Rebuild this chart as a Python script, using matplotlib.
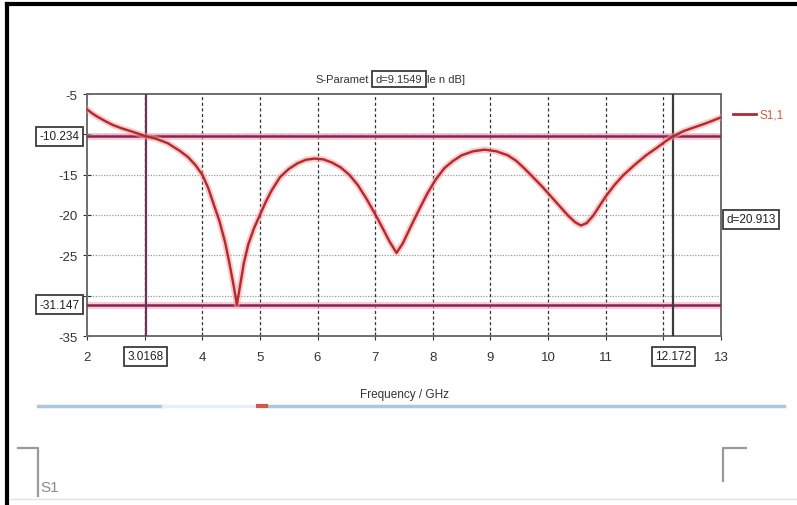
import matplotlib
matplotlib.use("Agg")
import matplotlib.pyplot as plt
from matplotlib.lines import Line2D

plt.rcParams['font.family'] = ['Liberation Sans Narrow', 'Liberation Sans', 'DejaVu Sans']

# S1,1 (GHz, dB)
freq = [2.0, 2.1, 2.2, 2.3, 2.45, 2.6, 2.8, 3.0168, 3.2, 3.4, 3.6, 3.75,
        3.88, 4.0, 4.1, 4.2, 4.3, 4.4, 4.48, 4.55, 4.6, 4.66, 4.72, 4.8,
        4.9, 5.0, 5.1, 5.2, 5.35, 5.5, 5.65, 5.8, 5.95, 6.1, 6.25, 6.4,
        6.55, 6.7, 6.85, 7.0, 7.12, 7.25, 7.37, 7.48, 7.6, 7.75, 7.9, 8.05,
        8.2, 8.35, 8.5, 8.7, 8.9, 9.1, 9.3, 9.45, 9.6, 9.75, 9.9, 10.05,
        10.2, 10.35, 10.47, 10.57, 10.67, 10.78, 10.9, 11.0, 11.15, 11.3,
        11.5, 11.7, 11.9, 12.05, 12.172, 12.35, 12.55, 12.75, 13.0]
s11 = [-6.9, -7.45, -7.9, -8.3, -8.85, -9.25, -9.7, -10.234, -10.55, -11.1,
       -12.0, -12.8, -13.8, -15.0, -16.6, -18.7, -20.8, -23.5, -26.3, -29.0,
       -31.1, -28.6, -26.0, -23.6, -21.6, -20.0, -18.4, -17.0, -15.3, -14.3,
       -13.6, -13.15, -13.0, -13.1, -13.5, -14.1, -15.0, -16.3, -18.0, -19.9,
       -21.5, -23.3, -24.7, -23.5, -21.7, -19.5, -17.4, -15.6, -14.2, -13.3,
       -12.6, -12.1, -11.9, -12.1, -12.6, -13.3, -14.3, -15.4, -16.5, -17.7,
       -18.9, -20.1, -20.9, -21.3, -21.0, -20.1, -18.8, -17.7, -16.3, -15.1,
       -13.8, -12.6, -11.6, -10.8, -10.234, -9.6, -9.1, -8.6, -7.9]

xticks = [2, 3, 4, 5, 6, 7, 8, 9, 10, 11, 12, 13]
xtick_labels = ['2', '', '4', '5', '6', '7', '8', '9', '10', '11', '', '13']
yticks = [-5, -10, -15, -20, -25, -30, -35]
ytick_labels = ['-5', '', '-15', '-20', '-25', '', '-35']

# marker readouts
marker_x = [3.0168, 12.172]
marker_y = [-10.234, -31.147]
delta_y = "d=20.913"
delta_x = "d=9.1549"

W, H = 797, 506
fig = plt.figure(figsize=(W / 100, H / 100), dpi=100)
fig.patch.set_facecolor('white')


def fx(px):
    return px / W


def fy(py):
    return 1 - py / H


ax = fig.add_axes([fx(87), fy(337), fx(721) - fx(87), fy(95) - fy(337)])
ax.set_xlim(2, 13)
ax.set_ylim(-35, -5)

# grid
for x in xticks[1:-1]:
    ax.axvline(x, color='#333333', lw=0.9, ls=(0, (2.5, 2)), zorder=1)
for y in yticks[1:-1]:
    ax.axhline(y, color='#9a9a9a', lw=0.9, ls=(0, (1, 1.2)), zorder=1)

# markers
for y in marker_y:
    ax.axhline(y, color='#f2a9c0', lw=5, alpha=0.6, zorder=2)
    ax.axhline(y, color='#8a2352', lw=1.8, zorder=3)
ax.axvline(marker_x[0], color='#6a3458', lw=1.6, zorder=3)
ax.axvline(marker_x[1], color='#3a3a3a', lw=1.6, zorder=3)

# curve
ax.plot(freq, s11, color='#f4a0a0', lw=4.5, alpha=0.55, zorder=4)
ax.plot(freq, s11, color='#b4282e', lw=1.7, zorder=5, label='S1,1')

for s in ax.spines.values():
    s.set_color('#6e6e6e')
    s.set_linewidth(1.4)

ax.set_xticks(xticks)
ax.set_xticklabels(xtick_labels)
ax.set_yticks(yticks)
ax.set_yticklabels(ytick_labels)
ax.tick_params(axis='x', direction='inout', length=6, pad=8, labelsize=9.5,
               colors='#333333')
ax.tick_params(axis='y', direction='inout', length=6, pad=4, labelsize=9.5,
               colors='#333333')
ax.set_xlabel("Frequency / GHz", fontsize=8.5, color='#333333', labelpad=18)

box = dict(boxstyle='square,pad=0.3', fc='white', ec='#3c3c3c', lw=1.3)

# title split by delta box
ax.text(0.444, 1.062, "S-Paramet", transform=ax.transAxes, ha='right',
        va='center', fontsize=8, color='#333333')
ax.text(0.492, 1.062, delta_x, transform=ax.transAxes, ha='center',
        va='center', fontsize=8, color='#333333', bbox=box, zorder=10)
ax.text(0.536, 1.062, "le n dB]", transform=ax.transAxes, ha='left',
        va='center', fontsize=8, color='#333333')

# marker value boxes
for y in marker_y:
    ax.text(-0.012, y, f"{y:.3f}", transform=ax.get_yaxis_transform(),
            ha='right', va='center', fontsize=8.5, color='#222222',
            bbox=box, zorder=10, clip_on=False)
for x in marker_x:
    lab = f"{x:.4f}" if x < 10 else f"{x:.3f}"
    ax.text(x, -0.083, lab, transform=ax.get_xaxis_transform(),
            ha='center', va='center', fontsize=8.5, color='#222222',
            bbox=box, zorder=10, clip_on=False)
ax.text(1.047, 0.483, delta_y, transform=ax.transAxes, ha='center',
        va='center', fontsize=8.5, color='#222222', bbox=box, clip_on=False)

# legend
fig.add_artist(Line2D([fx(733), fx(756)], [fy(115), fy(115)],
                      color='#b4282e', lw=2))
fig.text(fx(760), fy(116), "S1,1", fontsize=8.5, color='#d0603a',
         ha='left', va='center')

# outer frame
fig.add_artist(Line2D([fx(7), fx(797)], [fy(5), fy(5)], color='black', lw=3))
fig.add_artist(Line2D([fx(7), fx(7)], [fy(5), fy(506)], color='black', lw=3))
fig.add_artist(Line2D([fx(10), fx(797)], [fy(500), fy(500)],
                      color='#e4e4e4', lw=1))

# scrollbar below chart
fig.add_artist(Line2D([fx(38), fx(163)], [fy(407), fy(407)],
                      color='#aec6dc', lw=2.5))
fig.add_artist(Line2D([fx(163), fx(255)], [fy(407), fy(407)],
                      color='#e6eef6', lw=2.5))
fig.add_artist(Line2D([fx(268), fx(784)], [fy(407), fy(407)],
                      color='#aec6dc', lw=2.5))
fig.add_artist(Line2D([fx(258), fx(266)], [fy(407), fy(407)],
                      color='#d2584a', lw=3))

# corner brackets and label
fig.add_artist(Line2D([fx(18), fx(38), fx(38)], [fy(449), fy(449), fy(497)],
                      color='#9a9a9a', lw=1.6))
fig.add_artist(Line2D([fx(746), fx(723), fx(723)], [fy(449), fy(449), fy(482)],
                      color='#9a9a9a', lw=1.6))
fig.text(fx(40), fy(488), "S1", fontsize=11, color='#8a8a8a',
         ha='left', va='center')

fig.savefig("out.png", dpi=100)
